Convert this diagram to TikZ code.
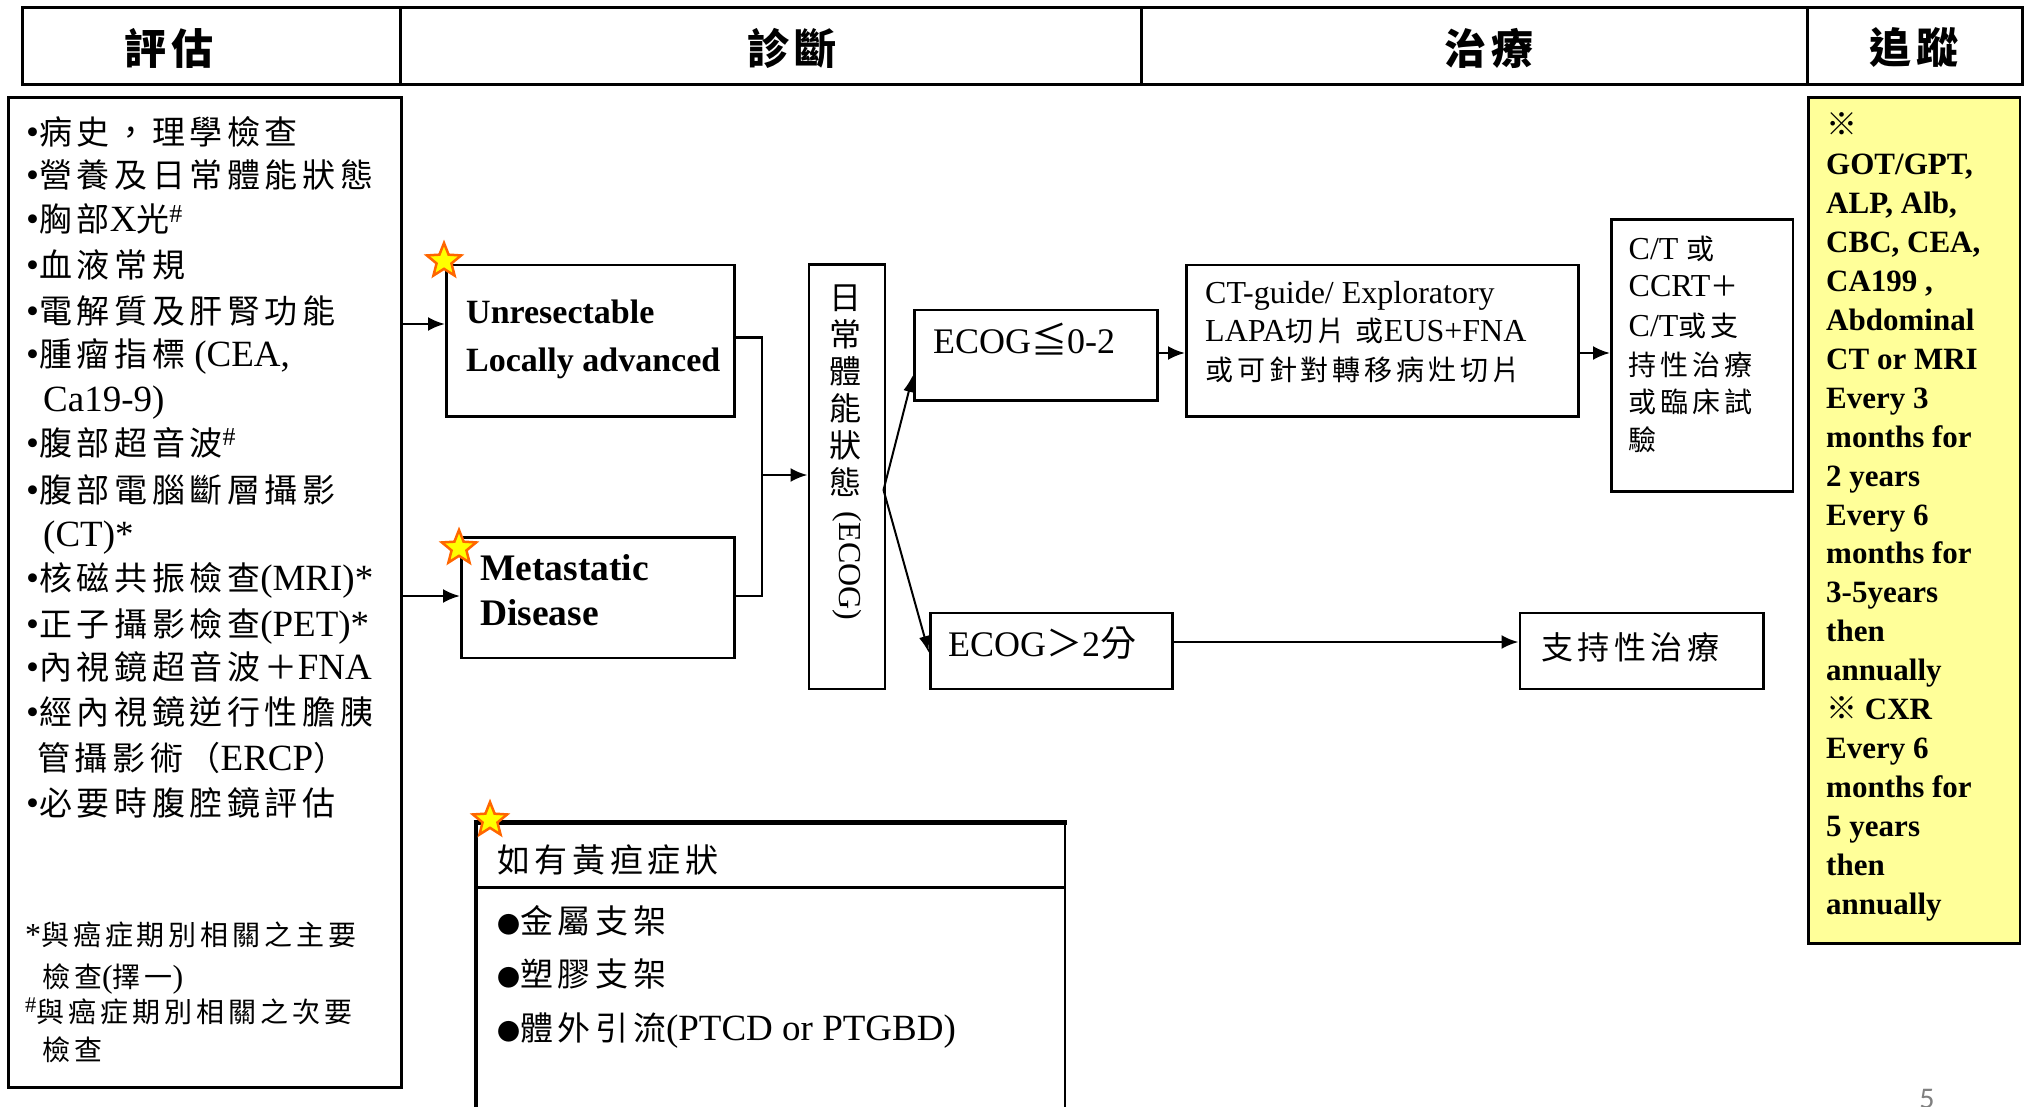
\documentclass[tikz,border=0pt]{standalone}
\usepackage{fontspec}
\setmainfont{Liberation Serif}
\newfontfamily\cjk{Noto Sans CJK TC}[LetterSpace=14]
\newfontfamily\pgnum{Carlito}
\usetikzlibrary{arrows.meta,shapes.geometric}
\newcommand\fs[1]{\fontsize{#1}{#1}\selectfont}
\newcommand\zh[1]{{\cjk #1}}
\newcommand\zhs[1]{{\fontsize{28}{28}\selectfont\cjk #1}}
\newcommand\zb[1]{{\fontsize{33}{33}\selectfont\cjk #1}}
\newcommand\zf[1]{{\fontsize{28}{28}\selectfont\cjk #1}}
\newcommand\dotmark{{\fontsize{23}{23}\selectfont\cjk ●}}
\definecolor{ylw}{HTML}{FFFF99}
\definecolor{starfill}{HTML}{FFFF00}
\definecolor{staredge}{HTML}{FF6600}
\begin{document}
\begin{tikzpicture}[x=1pt,y=-1pt,
  box/.style={draw, line width=2.6pt, inner sep=0pt, anchor=north west},
  hcell/.style={draw, line width=2.8pt, inner sep=0pt, anchor=north west, minimum height=76.5pt},
  arr/.style={line width=2.6pt, -{Latex[length=17pt,width=14pt]}},
  darr/.style={line width=2pt, -{Latex[length=17pt,width=11pt]}},
  lnk/.style={line width=2.6pt},
  lt/.style={anchor=base west, inner sep=0pt, font=\fs{32}},
  bl/.style={anchor=base west, inner sep=0pt, font=\fs{37}},
  ft/.style={anchor=base west, inner sep=0pt, font=\fs{32}},
  bt/.style={anchor=base west, inner sep=0pt, font=\fs{34}\bfseries},
  yt/.style={anchor=base west, inner sep=0pt, font=\fs{31}\bfseries},
  ht/.style={anchor=center, inner sep=0pt, font=\fs{42}\bfseries},
  vt/.style={anchor=base, inner sep=0pt, font=\fs{32}},
  starmark/.style={star, star points=5, star point ratio=2.3, minimum size=36pt, inner sep=0pt, fill=starfill, draw=staredge, line width=2.5pt}
]
\useasboundingbox (0,0) rectangle (2028,1107);

% header row
\node[hcell, minimum width=378pt] (hc1) at (21,6.5) {};
\node[hcell, minimum width=741pt] (hc2) at (399,6.5) {};
\node[hcell, minimum width=666pt] (hc3) at (1140,6.5) {};
\node[hcell, minimum width=215pt] (hc4) at (1806,6.5) {};
\node[ht] (h1) at (169,48) {\zh{評估}};
\node[ht] (h2) at (792,48) {\zh{診斷}};
\node[ht] (h3) at (1489,48) {\zh{治療}};
\node[ht] (h4) at (1914,48) {\zh{追蹤}};

% boxes
\node[box, minimum width=393pt, minimum height=989.5pt] (lb) at (7,96.5) {};
\node[box, minimum width=288pt, minimum height=151.4pt] (unres) at (445,263.6) {};
\node[box, minimum width=273pt, minimum height=120.5pt] (meta) at (460,536) {};
\node[box, minimum width=76pt, minimum height=424pt] (ecogv) at (807.5,263.5) {};
\node[box, minimum width=243pt, minimum height=90.5pt] (ecog1) at (913,308.5) {};
\node[box, minimum width=242pt, minimum height=76pt] (ecog2) at (929,611.5) {};
\node[box, minimum width=392pt, minimum height=151.4pt] (ctg) at (1185,263.6) {};
\node[box, minimum width=181.5pt, minimum height=272pt] (ctb) at (1610,218) {};
\node[box, minimum width=243.5pt, minimum height=76pt] (sup) at (1518.5,611.5) {};
\node[box, fill=ylw, minimum width=211.5pt, minimum height=845.5pt] (fu) at (1807,96.5) {};

% jaundice box
\draw[line width=2.6pt] (1065,822) -- (1065,1115);
\draw[line width=4pt] (475.5,820) -- (475.5,1115);
\draw[line width=5.5pt] (473.5,822.5) -- (1067,822.5);
\draw[line width=3pt] (475,887.5) -- (1065,887.5);

% left box text
\node[bl] (l1) at (26,144.6) {•\zb{病史，理學檢查}};
\node[bl] (l2) at (26,187.5) {•\zb{營養及日常體能狀態}};
\node[bl] (l3) at (26,232) {•\zb{胸部}X\zb{光}\textsuperscript{\#}};
\node[bl] (l4) at (26,277) {•\zb{血液常規}};
\node[bl] (l5) at (26,323) {•\zb{電解質及肝腎功能}};
\node[bl] (l6) at (26,366) {•\zb{腫瘤指標} (CEA,};
\node[bl] (l7) at (43,411) {Ca19-9)};
\node[bl] (l8) at (26,455) {•\zb{腹部超音波}\textsuperscript{\#}};
\node[bl] (l9) at (26,502) {•\zb{腹部電腦斷層攝影}};
\node[bl] (l10) at (43,546) {(CT)*};
\node[bl] (l11) at (26,590.6) {•\zb{核磁共振檢查}(MRI)*};
\node[bl] (l12) at (26,636) {•\zb{正子攝影檢查}(PET)*};
\node[bl] (l13) at (26,679) {•\zb{內視鏡超音波＋}FNA};
\node[bl] (l14) at (26,724) {•\zb{經內視鏡逆行性膽胰}};
\node[bl] (l15) at (37,770) {\zb{管攝影術（}ERCP\zb{）}};
\node[bl] (l16) at (26,815) {•\zb{必要時腹腔鏡評估}};
\node[ft] (f1) at (25,945) {*\zf{與癌症期別相關之主要}};
\node[ft] (f2) at (42,987) {\zf{檢查}(\zf{擇一})};
\node[ft] (f3) at (25,1022) {\textsuperscript{\#}\zf{與癌症期別相關之次要}};
\node[ft] (f4) at (42,1060) {\zf{檢查}};

% diagnosis texts
\node[bt] (t1) at (466,323) {Unresectable};
\node[bt] (t2) at (466,371) {Locally advanced};
\node[bt, font=\fs{37.5}\bfseries] (t3) at (480,580) {Metastatic};
\node[bt, font=\fs{37.5}\bfseries] (t4) at (480,625) {Disease};
\foreach \c [count=\i from 0] in {日,常,體,能,狀,態}
  \node[vt] (v\i) at (845,{309+37*\i}) {\zh{\c}};
\node[anchor=center, inner sep=0pt, font=\fs{32}, rotate=-90] (v6) at (847,566) {(ECOG)};
\node[anchor=base west, inner sep=0pt, font=\fs{36}] (e1) at (933,353) {ECOG\zh{≦}0-2};
\node[anchor=base west, inner sep=0pt, font=\fs{36}] (e2) at (948,656) {ECOG\zh{＞}2\zh{分}};

% treatment texts
\node[lt] (c1) at (1205,303.6) {CT-guide/ Exploratory};
\node[lt] (c2) at (1205,341) {LAPA\zhs{切片 或}EUS+FNA};
\node[lt] (c3) at (1205,380) {\zhs{或可針對轉移病灶切片}};
\node[lt] (d1) at (1628.5,259) {C/T \zhs{或}};
\node[lt] (d2) at (1628.5,296) {CCRT\zhs{＋}};
\node[lt] (d3) at (1628.5,336) {C/T\zhs{或支}};
\node[lt] (d4) at (1628.5,375) {\zhs{持性治療}};
\node[lt] (d5) at (1628.5,412.5) {\zhs{或臨床試}};
\node[lt] (d6) at (1628.5,450) {\zhs{驗}};
\node[lt] (s0) at (1541,659) {\zh{支持性治療}};

% jaundice texts
\node[bl] (j1) at (497,872) {\zb{如有黃疸症狀}};
\node[bl] (j2) at (497,933) {\dotmark\zb{金屬支架}};
\node[bl] (j3) at (497,986) {\dotmark\zb{塑膠支架}};
\node[bl] (j4) at (497,1040) {\dotmark\zb{體外引流}(PTCD or PTGBD)};

% follow-up texts
\foreach \t [count=\i from 0] in {{\zh{※}},{GOT/GPT,},{ALP, Alb,},{CBC, CEA,},{CA199 ,},{Abdominal},{CT or MRI},{Every 3},{months for},{2 years},{Every 6},{months for},{3-5years},{then},{annually},{\zh{※} CXR},{Every 6},{months for},{5 years},{then},{annually}}
  \node[yt] (y\i) at (1826,{136+38.9*\i}) {\t};

% connectors
\coordinate (j1c) at (762,337.5);
\coordinate (j2c) at (762,596);
\coordinate (j3c) at (762,475);
\coordinate (fork) at (883.5,490);
\draw[arr] (lb.east |- 0,324) -- (unres.west |- 0,324);
\draw[arr] (lb.east |- 0,596) -- (meta.west |- 0,596);
\draw[lnk] (unres.east |- j1c) -- (j1c) -- (j2c) -- (meta.east |- j2c);
\draw[arr] (j3c) -- (ecogv.west |- j3c);
\draw[darr] (fork) -- (ecog1.west |- 0,375);
\draw[darr] (fork) -- (ecog2.west |- 0,653);
\draw[arr] (ecog1.east |- 0,353) -- (ctg.west |- 0,353);
\draw[arr] (ctg.east |- 0,353) -- (ctb.west |- 0,353);
\draw[arr] (ecog2.east |- 0,642) -- (sup.west |- 0,642);

% stars
\node[starmark] (st1) at (444,261) {};
\node[starmark] (st2) at (459,548) {};
\node[starmark] (st3) at (490,820) {};

% page number
\node[anchor=base, inner sep=0pt, font=\pgnum\fs{30}, text=gray] (pg) at (1927,1108) {5};
\end{tikzpicture}
\end{document}
